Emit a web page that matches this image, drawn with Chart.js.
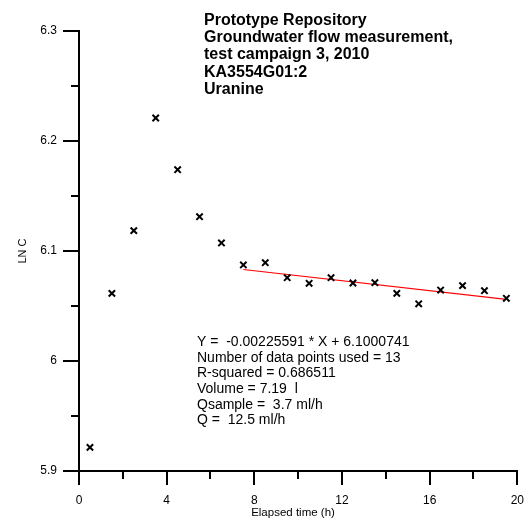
<!DOCTYPE html>
<html>
<head>
<meta charset="utf-8">
<script src="https://cdn.jsdelivr.net/npm/chart.js@4.4.0/dist/chart.umd.min.js"></script>
<style>
  body { margin: 0; background: #fff; }
  #wrap { width: 532px; height: 523px; position: relative; }
</style>
</head>
<body>
<div id="wrap"><canvas id="myChart"></canvas></div>
<script>
// data
const elapsedHours = [0.5, 1.5, 2.5, 3.5, 4.5, 5.5, 6.5, 7.5, 8.5, 9.5, 10.5, 11.5, 12.5, 13.5, 14.5, 15.5, 16.5, 17.5, 18.5, 19.5];
const lnC = [5.9215, 6.0615, 6.1185, 6.2209, 6.1739, 6.1312, 6.1073, 6.0873, 6.0894, 6.0757, 6.0706, 6.0757, 6.0709, 6.0712, 6.0615, 6.052, 6.0645, 6.0685, 6.0639, 6.057];
const fitX = [7.5, 19.5];
const fitY = [6.0832, 6.0561];
const xTicks = [0, 4, 8, 12, 16, 20];
const xMinor = [2, 6, 10, 14, 18];
const yTicks = [5.9, 6.0, 6.1, 6.2, 6.3];
const yMinor = [5.95, 6.05, 6.15, 6.25];

const titleLines = ['Prototype Repository', 'Groundwater flow measurement,', 'test campaign 3, 2010', 'KA3554G01:2', 'Uranine'];
const infoLines = ['Y =  -0.00225591 * X + 6.1000741', 'Number of data points used = 13', 'R-squared = 0.686511', 'Volume = 7.19  l', 'Qsample =  3.7 ml/h', 'Q =  12.5 ml/h'];

const FONT = '"Liberation Sans", Arial, sans-serif';

// minor ticks, axis titles and the text blocks
const extras = {
  id: 'extras',
  afterDraw(chart) {
    const c = chart.ctx;
    const xs = chart.scales.x, ys = chart.scales.y;
    const area = chart.chartArea;
    c.save();
    c.strokeStyle = '#000';
    c.lineWidth = 2;
    xMinor.forEach(v => {
      const px = Math.round(xs.getPixelForValue(v));
      c.beginPath(); c.moveTo(px, area.bottom); c.lineTo(px, area.bottom + 8); c.stroke();
    });
    yMinor.forEach(v => {
      const py = Math.round(ys.getPixelForValue(v));
      c.beginPath(); c.moveTo(area.left, py); c.lineTo(area.left - 8, py); c.stroke();
    });

    c.fillStyle = '#000';
    c.font = '11.5px ' + FONT;
    c.textAlign = 'center';
    c.textBaseline = 'alphabetic';
    c.fillText('Elapsed time (h)', 293, 515.5);
    c.save();
    c.translate(23, (area.top + area.bottom) / 2);
    c.rotate(-Math.PI / 2);
    c.textBaseline = 'middle';
    c.font = '11px ' + FONT;
    c.fillText('LN C', 0, 0);
    c.restore();

    c.textAlign = 'left';
    c.textBaseline = 'alphabetic';
    c.font = 'bold 16px ' + FONT;
    titleLines.forEach((t, i) => c.fillText(t, 204, 24.5 + i * 17.4));

    c.font = '14px ' + FONT;
    infoLines.forEach((t, i) => c.fillText(t, 197, 345.8 + i * 15.7));
    c.restore();
  }
};

const ctx = document.getElementById('myChart').getContext('2d');
const myChart = new Chart(ctx, {
  type: 'scatter',
  data: {
    datasets: [{
      label: 'LN C',
      data: elapsedHours.map((x, i) => ({ x: x, y: lnC[i] })),
      pointStyle: 'crossRot',
      pointRadius: 4.5,
      pointBorderWidth: 2,
      borderColor: '#000',
      backgroundColor: '#000',
      showLine: false
    }, {
      label: 'fit',
      data: fitX.map((x, i) => ({ x: x, y: fitY[i] })),
      showLine: true,
      borderColor: '#ff0000',
      borderWidth: 1.2,
      pointRadius: 0
    }]
  },
  options: {
    responsive: true,
    maintainAspectRatio: false,
    animation: false,
    layout: { padding: { top: 31, right: 11, left: 0, bottom: 0 } },
    plugins: { legend: { display: false }, tooltip: { enabled: false } },
    scales: {
      x: {
        type: 'linear',
        min: 0, max: 20,
        afterFit: s => { s.height = 52; },
        afterBuildTicks: s => { s.ticks = xTicks.map(v => ({ value: v })); },
        ticks: { color: '#000', font: { family: FONT, size: 12 }, padding: 8 },
        grid: { drawOnChartArea: false, drawTicks: true, tickLength: 14, color: '#000', lineWidth: 2 },
        border: { display: true, color: '#000', width: 2 }
      },
      y: {
        type: 'linear',
        min: 5.9, max: 6.3,
        afterFit: s => { s.width = 79; },
        afterBuildTicks: s => { s.ticks = yTicks.map(v => ({ value: v })); },
        ticks: {
          color: '#000', font: { family: FONT, size: 12 }, padding: 6,
          callback: v => (Math.round(v * 10) / 10).toString()
        },
        grid: { drawOnChartArea: false, drawTicks: true, tickLength: 16, color: '#000', lineWidth: 2 },
        border: { display: true, color: '#000', width: 2 }
      }
    }
  },
  plugins: [extras]
});
</script>
</body>
</html>
